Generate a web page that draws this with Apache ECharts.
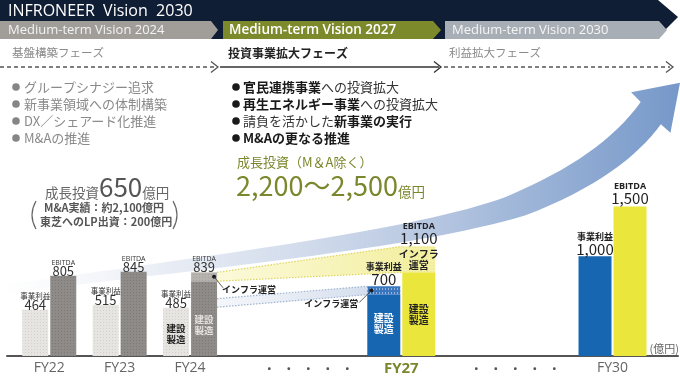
<!DOCTYPE html>
<html><head><meta charset="utf-8">
<script src="https://cdn.jsdelivr.net/npm/echarts@6/dist/echarts.min.js"></script>
<style>html,body{margin:0;padding:0;background:#fff}#c{width:680px;height:377px}</style>
</head><body><div id="c"></div>
<script>
// ---- data ----
const categories = ['FY22', 'FY23', 'FY24', 'FY27', 'FY30'];
const years = [22, 23, 24, 27, 30];
const opProfit = [464, 515, 485, 700, 1000];      // 事業利益
const ebitda = [805, 845, 839, 1100, 1500];       // EBITDA
const opInfra = [0, 0, 0, 85, 0];                 // 事業利益 うちインフラ運営
const ebitdaInfra = [0, 0, 89, 260, 0];           // EBITDA うちインフラ運営
const opBandFrom = [490, 575];                    // FY24側 インフラ運営(事業利益) 帯
const xTickYears = [22, 23, 24, 25.68, 27, 28.62, 30];
const xTickLabels = ['FY22', 'FY23', 'FY24', '…', 'FY27', '…', 'FY30'];

const JP = '"Noto Sans CJK JP", "Noto Sans", sans-serif';
const EN = '"Open Sans", "Noto Sans", sans-serif';

function pattern(w, h, bg, fg, draw) {
  const c = document.createElement('canvas'); c.width = w; c.height = h;
  const g = c.getContext('2d'); g.fillStyle = bg; g.fillRect(0, 0, w, h);
  g.fillStyle = fg; draw(g); return { image: c, repeat: 'repeat' };
}
const patLight = pattern(3, 3, '#e7e5e1', '#d3d0cb', g => { g.fillRect(1, 1, 1, 1); });
const patDark = pattern(3, 3, '#8e8b88', '#7b7875', g => { g.fillRect(1, 1, 1, 1); });
const patDarkTop = pattern(3, 3, '#b6b3af', '#a4a19d', g => { g.fillRect(1, 1, 1, 1); });
const patBlueTop = pattern(3, 4, '#3a76bd', '#93b3dc', g => { g.fillRect(1, 0, 1, 2); });
const patYellowTop = pattern(3, 3, '#f4f0a4', '#ebe68a', g => { g.fillRect(1, 1, 1, 1); });

const barData = years.map((y, i) => [y, opProfit[i], ebitda[i], opInfra[i], ebitdaInfra[i]]);
const i24 = years.indexOf(24), i27 = years.indexOf(27);
const bandData = [
  [24, ebitda[i24] - ebitdaInfra[i24], ebitda[i24], 27, ebitda[i27] - ebitdaInfra[i27], ebitda[i27], 0],
  [24, opBandFrom[0], opBandFrom[1], 27, opProfit[i27] - opInfra[i27], opProfit[i27], 1]
];

function txt(text, x, y, font, fill, align, va, extra) {
  return { type: 'text', style: Object.assign({ text, x, y, font, fill, align: align || 'center', verticalAlign: va || 'middle' }, extra || {}) };
}

function renderBars(params, api) {
  const year = api.value(0), op = api.value(1), eb = api.value(2), opI = api.value(3), ebI = api.value(4);
  const base = api.coord([year, 0]); const cx = base[0], y0 = base[1];
  const yv = v => api.coord([year, v])[1];
  const future = year >= 27;
  const w = future ? 33 : 26;
  const ch = [];
  const lx = cx - w - 1, rx = cx + 1;
  const opTop = yv(op);
  if (opI > 0) {
    const mid = yv(op - opI);
    ch.push({ type: 'rect', shape: { x: lx, y: mid, width: w, height: y0 - mid }, style: { fill: future ? '#1766b1' : patLight } });
    ch.push({ type: 'rect', shape: { x: lx, y: opTop, width: w, height: mid - opTop }, style: { fill: patBlueTop } });
    const my = (mid + opTop) / 2;
    ch.push({ type: 'circle', shape: { cx: lx + 4, cy: my, r: 2 }, style: { fill: '#1a1a1a' } });
    ch.push({ type: 'line', shape: { x1: lx + 4, y1: my, x2: lx - 8, y2: my + 12 }, style: { stroke: '#333', lineWidth: 0.8 } });
    ch.push(txt('インフラ運営', lx - 9, my + 13, 'bold 9px ' + JP, '#222', 'right'));
  } else {
    ch.push({ type: 'rect', shape: { x: lx, y: opTop, width: w, height: y0 - opTop }, style: { fill: future ? '#1766b1' : patLight } });
  }
  const ebTop = yv(eb);
  const ebFill = future ? '#ebe63c' : patDark;
  if (ebI > 0) {
    const mid = yv(eb - ebI);
    ch.push({ type: 'rect', shape: { x: rx, y: mid, width: w, height: y0 - mid }, style: { fill: ebFill } });
    ch.push({ type: 'rect', shape: { x: rx, y: ebTop, width: w, height: mid - ebTop }, style: { fill: future ? patYellowTop : patDarkTop } });
    const my = (mid + ebTop) / 2;
    if (future) {
      ch.push(txt('インフラ\n運営', rx + w / 2, my, 'bold 10px ' + JP, '#222', 'center', 'middle', { lineHeight: 11 }));
    } else {
      ch.push({ type: 'circle', shape: { cx: rx + w - 3, cy: my, r: 2 }, style: { fill: '#1a1a1a' } });
      ch.push({ type: 'line', shape: { x1: rx + w - 3, y1: my, x2: rx + w + 6, y2: my + 11 }, style: { stroke: '#333', lineWidth: 0.8 } });
      ch.push(txt('インフラ運営', rx + w + 5, my + 13, 'bold 9px ' + JP, '#222', 'left'));
    }
  } else {
    ch.push({ type: 'rect', shape: { x: rx, y: ebTop, width: w, height: y0 - ebTop }, style: { fill: ebFill } });
  }
  if (year === 24) {
    ch.push(txt('建設\n製造', lx + w / 2, y0 - 22, 'bold 9.5px ' + JP, '#222', 'center', 'middle', { lineHeight: 11 }));
    ch.push(txt('建設\n製造', rx + w / 2, y0 - 31, 'bold 9.5px ' + JP, '#e4e2df', 'center', 'middle', { lineHeight: 11 }));
  }
  if (year === 27) {
    ch.push(txt('建設\n製造', lx + w / 2, y0 - 32, 'bold 10px ' + JP, '#fff', 'center', 'middle', { lineHeight: 11 }));
    ch.push(txt('建設\n製造', rx + w / 2, y0 - 41, 'bold 10px ' + JP, '#222', 'center', 'middle', { lineHeight: 11 }));
  }
  const fmt = v => v.toLocaleString('en-US');
  if (future) {
    ch.push(txt(fmt(op), lx + w / 2, opTop - 7, '15px ' + JP, '#222'));
    ch.push(txt('事業利益', lx + w / 2, opTop - 20, 'bold 9px ' + JP, '#222'));
    ch.push(txt(fmt(eb), rx + w / 2, ebTop - 8, '15px ' + JP, '#222'));
    ch.push(txt('EBITDA', rx + w / 2, ebTop - 20, 'bold 9px ' + EN, '#222'));
  } else {
    ch.push(txt(fmt(op), lx + w / 2, opTop - 5, '13px ' + JP, '#333'));
    ch.push(txt('事業利益', lx + w / 2, opTop - 14, '7.5px ' + JP, '#333'));
    ch.push(txt(fmt(eb), rx + w / 2, ebTop - 5, '13px ' + JP, '#333'));
    ch.push(txt('EBITDA', rx + w / 2, ebTop - 13, '7px ' + EN, '#333'));
  }
  return { type: 'group', children: ch };
}

function renderBands(params, api) {
  const x1 = api.coord([api.value(0), 0])[0] + 27;
  const x2v = api.coord([api.value(3), 0])[0];
  const kind = api.value(6);
  const x2 = kind === 0 ? x2v + 1 : x2v - 34;
  const a = api.coord([api.value(0), api.value(1)])[1], b = api.coord([api.value(0), api.value(2)])[1];
  const c = api.coord([api.value(3), api.value(4)])[1], d = api.coord([api.value(3), api.value(5)])[1];
  const fill = kind === 0
    ? new echarts.graphic.LinearGradient(0, 0, 1, 0, [{ offset: 0, color: 'rgba(246,242,170,0.45)' }, { offset: 1, color: 'rgba(242,237,150,0.85)' }])
    : new echarts.graphic.LinearGradient(0, 0, 1, 0, [{ offset: 0, color: 'rgba(222,230,241,0.35)' }, { offset: 1, color: 'rgba(205,216,234,0.85)' }]);
  const stroke = kind === 0 ? '#dcd55a' : '#9fb4d2';
  return {
    type: 'group', children: [
      { type: 'polygon', shape: { points: [[x1, b], [x2, d], [x2, c], [x1, a]] }, style: { fill } },
      { type: 'line', shape: { x1: x1, y1: b, x2: x2, y2: d }, style: { stroke, lineWidth: 1.2, lineDash: [1.5, 1.5] } },
      { type: 'line', shape: { x1: x1, y1: a, x2: x2, y2: c }, style: { stroke, lineWidth: 1.2, lineDash: [1.5, 1.5] } }
    ]
  };
}

// big growth arrow (decoration)
const arrowGrad = new echarts.graphic.LinearGradient(0, 0, 1, 0, [
  { offset: 0, color: 'rgba(235,238,243,0)' },
  { offset: 0.25, color: 'rgba(226,232,242,0.8)' },
  { offset: 0.6, color: '#bccbe3' },
  { offset: 1, color: '#7698c9' }
]);
function renderArrow() {
  return {
    type: 'path',
    shape: { pathData: 'M 28 254 C 220 230 415 212 522 180 C 590 154 628 124 650 94 L 659 102 L 668 55 L 622 64 L 631 73 C 606 108 566 136 505 162 C 420 194 220 218 28 246 Z', x: 0, y: 0, width: 680, height: 377 },
    style: { fill: arrowGrad }
  };
}

const chevron = (x, y, color) => ({ type: 'polyline', shape: { points: [[x - 7, y - 5.5], [x, y], [x - 7, y + 5.5]] }, style: { stroke: color, lineWidth: 1.3, fill: null } });
const bulletL = ['グループシナジー追求', '新事業領域への体制構築', 'DX／シェアード化推進', 'M&Aの推進'];
const bulletM = ['{b|官民連携事業}{n|への投資拡大}', '{b|再生エネルギー事業}{n|への投資拡大}', '{n|請負を活かした}{b|新事業の実行}', '{b|M&Aの更なる推進}'];
const rowY = [87, 104, 121, 138];

const graphics = [
  { type: 'polygon', shape: { points: [[0, 0], [658, 0], [678, 17], [656, 39], [0, 39]] }, style: { fill: '#0f1d35' } },
  { type: 'polygon', shape: { points: [[0, 21], [211, 21], [218, 30], [211, 39], [0, 39]] }, style: { fill: '#a19e9a' } },
  { type: 'polygon', shape: { points: [[223, 21], [433, 21], [441, 30], [433, 39], [223, 39]] }, style: { fill: '#7d8a2c' } },
  { type: 'polygon', shape: { points: [[445, 21], [659, 21], [667, 30], [659, 39], [445, 39]] }, style: { fill: '#a8aeb6' } },
  { type: 'text', style: { text: 'INFRONEER  Vision  2030', x: 8, y: 11, font: '16px ' + EN, fill: '#fff', verticalAlign: 'middle' } },
  { type: 'text', style: { text: 'Medium-term Vision 2024', x: 8, y: 30, font: '13px ' + EN, fill: '#f3f3f3', verticalAlign: 'middle' } },
  { type: 'text', style: { text: 'Medium-term Vision 2027', x: 229, y: 30, font: '600 13.5px ' + EN, fill: '#fff', verticalAlign: 'middle' } },
  { type: 'text', style: { text: 'Medium-term Vision 2030', x: 452, y: 30, font: '13px ' + EN, fill: '#f5f5f5', verticalAlign: 'middle' } },
  { type: 'text', style: { text: '基盤構築フェーズ', x: 12, y: 53, font: '11.5px ' + JP, fill: '#8a8a8a', verticalAlign: 'middle' } },
  { type: 'text', style: { text: '投資事業拡大フェーズ', x: 228, y: 53, font: 'bold 12px ' + JP, fill: '#222', verticalAlign: 'middle' } },
  { type: 'text', style: { text: '利益拡大フェーズ', x: 449, y: 53, font: '11.5px ' + JP, fill: '#8a8a8a', verticalAlign: 'middle' } },
  { type: 'line', shape: { x1: 0, y1: 67, x2: 216, y2: 67 }, style: { stroke: '#555', lineWidth: 1.3, lineDash: [4, 3] } },
  chevron(218, 67, '#555'),
  { type: 'line', shape: { x1: 220, y1: 67, x2: 439, y2: 67 }, style: { stroke: '#333', lineWidth: 1.4 } },
  chevron(441, 67, '#333'),
  { type: 'line', shape: { x1: 444, y1: 67, x2: 670, y2: 67 }, style: { stroke: '#555', lineWidth: 1.3, lineDash: [4, 3] } },
  chevron(673, 67, '#555'),
  ...bulletL.map((t, i) => ({ type: 'circle', shape: { cx: 16, cy: rowY[i], r: 3.8 }, style: { fill: '#858585' } })),
  ...bulletL.map((t, i) => ({ type: 'text', style: { text: t, x: 24, y: rowY[i], font: '13px ' + JP, fill: '#8a8a8a', verticalAlign: 'middle' } })),
  ...bulletM.map((t, i) => ({ type: 'circle', shape: { cx: 236, cy: rowY[i], r: 3.8 }, style: { fill: '#1a1a1a' } })),
  ...bulletM.map((t, i) => ({ type: 'text', style: { text: t, x: 243, y: rowY[i], verticalAlign: 'middle', rich: { b: { font: 'bold 13px ' + JP, fill: '#1a1a1a' }, n: { font: '13px ' + JP, fill: '#333' } } } })),
  { type: 'text', style: { text: '成長投資（M＆A除く）', x: 237, y: 162, font: '13px ' + JP, fill: '#7b872c', verticalAlign: 'middle' } },
  { type: 'text', style: { text: '{a|2,200〜2,500}{b|億円}', x: 236, y: 199, verticalAlign: 'bottom', rich: { a: { font: '27px ' + JP, fill: '#7b872c', verticalAlign: 'bottom', lineHeight: 31 }, b: { font: '13.5px ' + JP, fill: '#7b872c', verticalAlign: 'bottom', lineHeight: 20 } } } },
  { type: 'text', style: { text: '{a|成長投資}{b|650}{a|億円}', x: 45, y: 200, verticalAlign: 'bottom', rich: { a: { font: '13.5px ' + JP, fill: '#666', verticalAlign: 'bottom', lineHeight: 20 }, b: { font: '26px ' + JP, fill: '#555', verticalAlign: 'bottom', lineHeight: 30 } } } },
  { type: 'text', style: { text: 'M&A実績：約2,100億円', x: 44, y: 208, font: 'bold 11px ' + JP, fill: '#555', verticalAlign: 'middle' } },
  { type: 'text', style: { text: '東芝へのLP出資：200億円', x: 40, y: 222, font: 'bold 11px ' + JP, fill: '#555', verticalAlign: 'middle' } },
  { type: 'bezierCurve', shape: { x1: 36, y1: 201, x2: 36, y2: 229, cpx1: 28, cpy1: 215 }, style: { stroke: '#666', lineWidth: 1.2, fill: null } },
  { type: 'bezierCurve', shape: { x1: 173, y1: 201, x2: 173, y2: 229, cpx1: 181, cpy1: 215 }, style: { stroke: '#666', lineWidth: 1.2, fill: null } },
  { type: 'text', z: 10, style: { text: '(億円)', x: 679, y: 349, font: '11px ' + JP, fill: '#666', align: 'right', verticalAlign: 'middle' } }
];

const chart = echarts.init(document.getElementById('c'), null, { renderer: 'canvas' });
chart.setOption({
  animation: false,
  grid: { left: 7, right: 2, top: 57, bottom: 20 },
  xAxis: {
    type: 'value', min: 21.4, max: 30.93,
    axisLine: { show: true, onZero: false, lineStyle: { color: '#555', width: 2 } },
    axisTick: { show: false }, splitLine: { show: false },
    axisLabel: {
      customValues: xTickYears, margin: 5, color: '#666', fontSize: 14, fontFamily: EN,
      formatter: v => {
        const i = xTickYears.indexOf(v); const t = i >= 0 ? xTickLabels[i] : '';
        if (t === '…') return '{d|·}{d|·}{d|·}{d|·}{d|·}';
        if (t === 'FY27') return '{o|FY27}';
        return t;
      },
      rich: { d: { width: 19.5, align: 'center', fontSize: 16, color: '#555', fontWeight: 'bold' }, o: { color: '#7b872c', fontSize: 15, fontWeight: 'bold', fontFamily: EN } }
    }
  },
  yAxis: { type: 'value', min: 0, max: 3000, show: false },
  graphic: graphics,
  series: [
    { type: 'custom', name: 'arrow', z: 1, renderItem: renderArrow, data: [[22, 0]], encode: { x: 0, y: 1 }, silent: true, clip: false },
    { type: 'custom', name: 'band', z: 3, renderItem: renderBands, data: bandData, encode: { x: 0, y: 1 }, silent: true },
    { type: 'custom', name: 'bars', z: 4, renderItem: renderBars, data: barData, encode: { x: 0, y: [1, 2] } }
  ]
});
</script></body></html>
